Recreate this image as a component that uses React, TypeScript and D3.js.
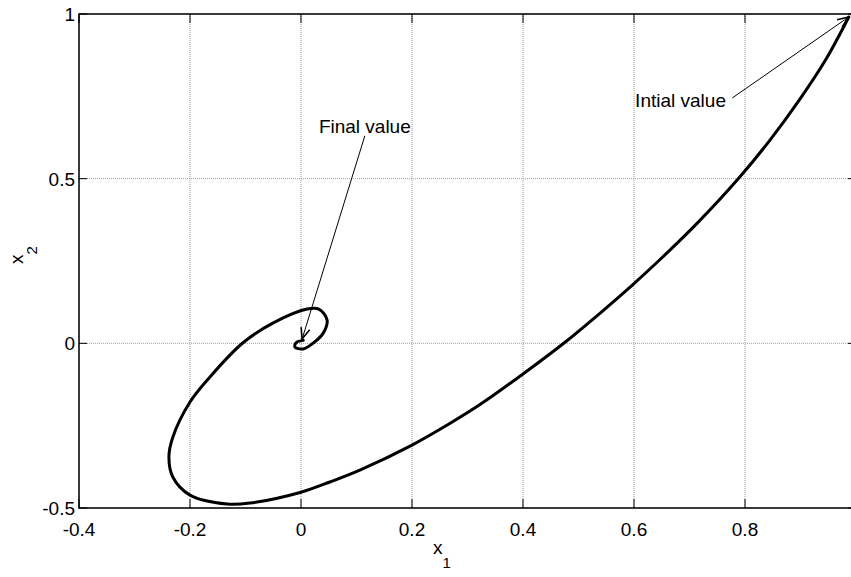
import * as d3 from 'd3';

// trajectory of the state (x1, x2)
const trajX1 = [
  0.987, 0.945, 0.898, 0.845, 0.789, 0.714, 0.646, 0.597, 0.537, 0.474, 0.4, 0.3225, 0.268, 0.2,
  0.106, 0.052, 0.0, -0.092, -0.133, -0.2, -0.231, -0.238, -0.231, -0.2, -0.164, -0.105, -0.05,
  0.011, 0.032, 0.047, 0.04, 0.023, 0.004, -0.011, -0.008, 0.004,
];
const trajX2 = [
  0.991, 0.86, 0.739, 0.617, 0.502, 0.365, 0.253, 0.177, 0.089, 0.001, -0.093, -0.186, -0.2435,
  -0.309, -0.385, -0.421, -0.452, -0.485, -0.488, -0.461, -0.406, -0.345, -0.285, -0.178, -0.102,
  0.001, 0.062, 0.104, 0.104, 0.071, 0.031, 0.002, -0.017, -0.011, 0.003, 0.009,
];

const xTicks = [-0.4, -0.2, 0, 0.2, 0.4, 0.6, 0.8, 1];
const xTickLabels = ['-0.4', '-0.2', '0', '0.2', '0.4', '0.6', '0.8', ''];
const yTicks = [-0.5, 0, 0.5, 1];
const yTickLabels = ['-0.5', '0', '0.5', '1'];

// annotations: text position and arrow (from -> tip), in data units
const annotations = [
  { label: 'Intial value', anchor: 'start', textX: 0.602, textY: 0.718, fromX: 0.777, fromY: 0.745, toX: 0.987, toY: 0.991 },
  { label: 'Final value', anchor: 'middle', textX: 0.115, textY: 0.64, fromX: 0.115, fromY: 0.63, toX: 0.002, toY: 0.013 },
];

const W = 851;
const H = 577;
const left = 79;
const right = 856;
const top = 14;
const bottom = 508;
const font = '"Liberation Sans", Arial, sans-serif';

export default function App() {
  const x = d3.scaleLinear().domain([-0.4, 1]).range([left, right]);
  const y = d3.scaleLinear().domain([-0.5, 1]).range([bottom, top]);

  const pts: [number, number][] = trajX1.map((v, i) => [v, trajX2[i]]);
  const line = d3
    .line<[number, number]>()
    .x((d) => x(d[0]))
    .y((d) => y(d[1]))
    .curve(d3.curveCatmullRom.alpha(0.5));

  const arrowHead = (x1: number, y1: number, x2: number, y2: number) => {
    const a = Math.atan2(y2 - y1, x2 - x1);
    const len = 12;
    const spread = 0.38;
    const p1 = [x2 - len * Math.cos(a - spread), y2 - len * Math.sin(a - spread)];
    const p2 = [x2 - len * Math.cos(a + spread), y2 - len * Math.sin(a + spread)];
    return `M${p1[0]},${p1[1]}L${x2},${y2}L${p2[0]},${p2[1]}`;
  };

  return (
    <>
      <style>{`body{margin:0}`}</style>
      <svg width={W} height={H} style={{ display: 'block', background: '#fff' }} fontFamily={font}>
        <rect x={0} y={0} width={W} height={H} fill="#fff" />
        {/* grid */}
        {xTicks.map((t) => (
          <line key={'gx' + t} x1={x(t)} x2={x(t)} y1={top} y2={bottom} stroke="#9a9a9a" strokeWidth={1} strokeDasharray="1,1" />
        ))}
        {yTicks.map((t) => (
          <line key={'gy' + t} x1={left} x2={right} y1={y(t)} y2={y(t)} stroke="#9a9a9a" strokeWidth={1} strokeDasharray="1,1" />
        ))}
        {/* inner ticks */}
        {xTicks.map((t) => (
          <g key={'tx' + t} stroke="#000" strokeWidth={1}>
            <line x1={x(t)} x2={x(t)} y1={bottom} y2={bottom - 9} />
            <line x1={x(t)} x2={x(t)} y1={top} y2={top + 9} />
          </g>
        ))}
        {yTicks.map((t) => (
          <g key={'ty' + t} stroke="#000" strokeWidth={1}>
            <line x1={left} x2={left + 8} y1={y(t)} y2={y(t)} />
            <line x1={right} x2={right - 8} y1={y(t)} y2={y(t)} />
          </g>
        ))}
        {/* axes box */}
        <rect x={left} y={top} width={right - left} height={bottom - top} fill="none" stroke="#000" strokeWidth={1.5} />
        {/* tick labels */}
        {xTicks.map((t, i) => (
          <text key={'lx' + t} x={x(t)} y={bottom + 28} textAnchor="middle" fontSize={19}>
            {xTickLabels[i]}
          </text>
        ))}
        {yTicks.map((t, i) => (
          <text key={'ly' + t} x={left - 4} y={y(t) + 7} textAnchor="end" fontSize={19}>
            {yTickLabels[i]}
          </text>
        ))}
        {/* trajectory */}
        <path d={line(pts) ?? ''} fill="none" stroke="#000" strokeWidth={3} strokeLinejoin="round" strokeLinecap="round" />
        {/* annotations */}
        {annotations.map((a) => (
          <g key={a.label}>
            <line x1={x(a.fromX)} y1={y(a.fromY)} x2={x(a.toX)} y2={y(a.toY)} stroke="#000" strokeWidth={1} />
            <path d={arrowHead(x(a.fromX), y(a.fromY), x(a.toX), y(a.toY))} fill="none" stroke="#000" strokeWidth={1.6} />
            <text x={x(a.textX)} y={y(a.textY)} textAnchor={a.anchor} fontSize={19} fill="#000">
              {a.label}
            </text>
          </g>
        ))}
        {/* axis labels */}
        <text x={433} y={554} fontSize={19}>
          x<tspan fontSize={15} dy={14}>1</tspan>
        </text>
        <text transform="translate(23,264) rotate(-90)" fontSize={19}>
          x<tspan fontSize={15} dy={14}>2</tspan>
        </text>
      </svg>
    </>
  );
}
